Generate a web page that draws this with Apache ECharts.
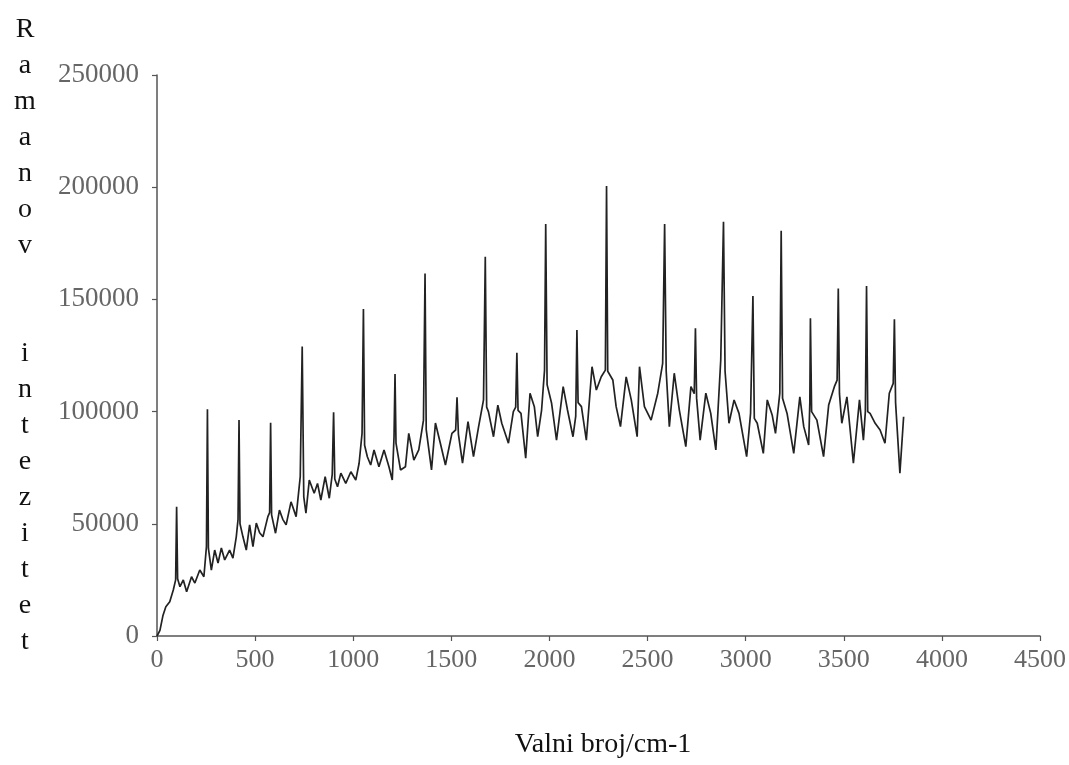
<!DOCTYPE html>
<html>
<head>
<meta charset="utf-8">
<script src="https://cdn.jsdelivr.net/npm/echarts@6/dist/echarts.min.js"></script>
<style>
  html, body { margin: 0; padding: 0; background: #fff; }
  #chart { width: 1069px; height: 765px; }
</style>
</head>
<body>
<div id="chart"></div>
<script>
// Wavenumber (cm-1)
const wavenumber = [
  0, 15, 30, 45, 65, 83, 95, 100, 105, 117, 134, 151, 176, 193, 218, 239, 252, 257, 262, 277,
  294, 311, 328, 345, 370, 387, 404, 413, 418, 423, 438, 455, 472, 489, 506, 523, 540, 565, 574, 579,
  584, 604, 624, 641, 658, 683, 709, 730, 740, 748, 759, 776, 801, 818, 835, 857, 878, 893, 900, 906,
  920, 937, 962, 988, 1013, 1030, 1045, 1052, 1058, 1072, 1089, 1106, 1131, 1157, 1182, 1199, 1208, 1213, 1218, 1241,
  1266, 1283, 1309, 1334, 1358, 1366, 1372, 1399, 1419, 1444, 1470, 1503, 1522, 1529, 1536, 1557, 1585, 1613, 1639, 1664,
  1673, 1680, 1689, 1715, 1737, 1757, 1791, 1816, 1828, 1834, 1840, 1855, 1879, 1901, 1923, 1940, 1960, 1975, 1981, 1988,
  2011, 2036, 2070, 2092, 2120, 2134, 2140, 2146, 2163, 2188, 2217, 2239, 2264, 2273, 2285, 2291, 2297, 2323, 2340, 2362,
  2391, 2417, 2447, 2459, 2484, 2518, 2552, 2577, 2587, 2595, 2611, 2636, 2662, 2695, 2721, 2738, 2744, 2750, 2768, 2797,
  2822, 2848, 2873, 2887, 2895, 2915, 2941, 2966, 3005, 3025, 3037, 3044, 3059, 3090, 3110, 3135, 3152, 3174, 3181, 3188,
  3211, 3245, 3276, 3296, 3321, 3327, 3330, 3336, 3363, 3397, 3423, 3452, 3466, 3472, 3478, 3490, 3516, 3549, 3580, 3600,
  3610, 3616, 3622, 3634, 3660, 3685, 3710, 3732, 3752, 3758, 3764, 3786, 3805
];
// Raman intensity
const intensity = [
  0, 2500, 9000, 13000, 15300, 20500, 25000, 57600, 25500, 22000, 25000, 19700, 26400, 23600, 29400, 26400, 39800, 101000, 39000, 29400,
  38300, 32500, 39200, 33900, 38300, 34700, 44200, 52000, 96200, 50000, 44200, 38300, 49500, 39800, 50300, 46000, 44200, 53200, 55000, 95000,
  54000, 45800, 56100, 52000, 49500, 59800, 53200, 71000, 129000, 62000, 54700, 69500, 63600, 68000, 60600, 71000, 61400, 72000, 99700, 70000,
  66500, 72600, 68000, 73200, 69500, 77000, 90300, 145700, 85000, 79900, 76200, 82900, 75400, 82900, 75400, 69500, 88800, 116700, 86000, 74000,
  75400, 90300, 78400, 82900, 96200, 161500, 92000, 74000, 94900, 85900, 76200, 90300, 91800, 106400, 90000, 77000, 95500, 79900, 93300, 105200,
  169000, 102000, 100000, 88800, 102900, 94800, 85900, 100000, 102000, 126200, 100500, 99200, 79200, 108200, 102200, 88800, 100700, 118500, 183600, 112000,
  103700, 87300, 111100, 100700, 88800, 98000, 136400, 104000, 102200, 87300, 120000, 109600, 115500, 115500, 118500, 200500, 118000, 114100, 102200, 93300,
  115500, 105200, 88800, 120000, 102200, 96200, 108200, 121500, 183600, 118000, 93300, 117100, 100700, 84400, 111100, 108000, 137100, 106000, 87300, 108200,
  99200, 82900, 123000, 184600, 118000, 94800, 105200, 99200, 79900, 99200, 151500, 97000, 94800, 81400, 105200, 98500, 90300, 108200, 180600, 106000,
  99200, 81400, 106600, 93300, 85100, 104000, 141600, 100000, 96200, 79900, 102900, 111100, 114000, 154900, 108000, 94800, 106600, 77000, 105200, 87300,
  100000, 156000, 100000, 99200, 94800, 91800, 85900, 108200, 112600, 141100, 104000, 72500, 97700
];
const xTicks = [0, 500, 1000, 1500, 2000, 2500, 3000, 3500, 4000, 4500];
const yTicks = [0, 50000, 100000, 150000, 200000, 250000];
const yTitleLetters = ['R','a','m','a','n','o','v','','','i','n','t','e','z','i','t','e','t'];
const xTitle = 'Valni broj/cm-1';

const points = wavenumber.map((w, i) => [w, intensity[i]]);
const serif = '"Liberation Serif", "DejaVu Serif", serif';

const chart = echarts.init(document.getElementById('chart'));
chart.setOption({
  animation: false,
  backgroundColor: '#ffffff',
  grid: { left: 157, right: 25, top: 75, bottom: 129, containLabel: false },
  xAxis: {
    type: 'value',
    min: xTicks[0],
    max: xTicks[xTicks.length - 1],
    interval: 500,
    splitLine: { show: false },
    axisLine: { show: true, onZero: false, lineStyle: { color: '#555', width: 1.5 } },
    axisTick: { show: true, length: 5, lineStyle: { color: '#555', width: 1.2 } },
    axisLabel: {
      margin: 11,
      color: '#666',
      fontFamily: serif,
      fontSize: 26,
      formatter: v => String(v)
    }
  },
  yAxis: {
    type: 'value',
    min: yTicks[0],
    max: yTicks[yTicks.length - 1],
    interval: 50000,
    splitLine: { show: false },
    axisLine: { show: true, lineStyle: { color: '#555', width: 1.5 } },
    axisTick: { show: true, length: 5, lineStyle: { color: '#555', width: 1.2 } },
    axisLabel: {
      margin: 18,
      color: '#666',
      fontFamily: serif,
      fontSize: 27,
      formatter: v => String(v)
    }
  },
  graphic: [
    {
      type: 'text',
      x: 25,
      y: 12,
      style: {
        text: yTitleLetters.join('\n'),
        fontFamily: serif,
        fontSize: 28,
        lineHeight: 36,
        align: 'center',
        verticalAlign: 'top',
        fill: '#111'
      }
    },
    {
      type: 'text',
      x: 603,
      y: 745,
      style: {
        text: xTitle,
        fontFamily: serif,
        fontSize: 28,
        align: 'center',
        verticalAlign: 'middle',
        fill: '#111'
      }
    }
  ],
  series: [{
    type: 'line',
    data: points,
    showSymbol: false,
    symbol: 'none',
    smooth: false,
    lineStyle: { color: '#222', width: 1.7 },
    z: 3
  }]
});
</script>
</body>
</html>
